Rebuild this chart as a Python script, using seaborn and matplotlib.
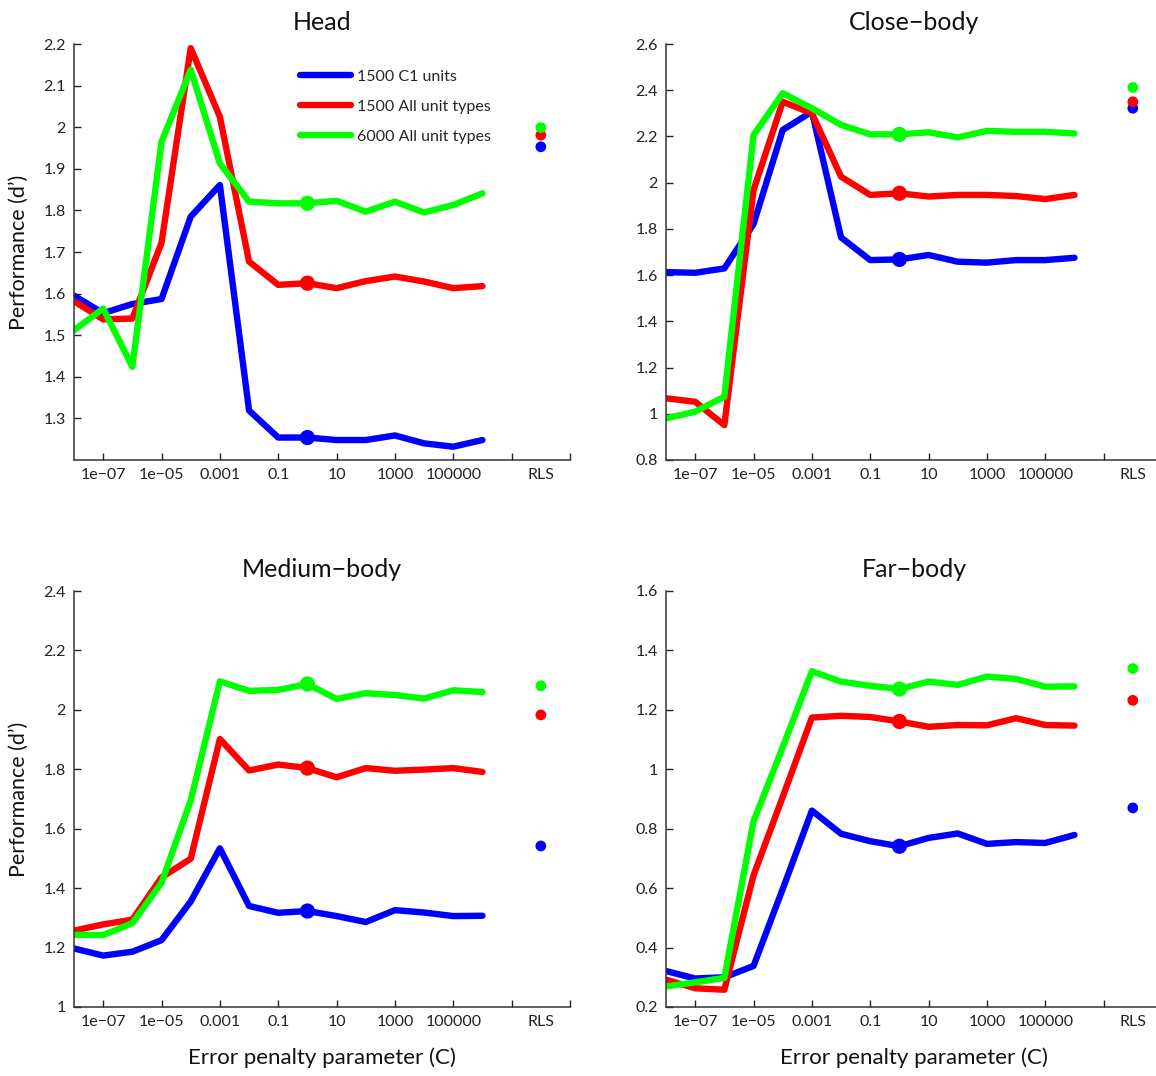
import numpy as np
import pandas as pd
import matplotlib
matplotlib.use("Agg")
import matplotlib.pyplot as plt
import seaborn as sns

# ---------------- data ----------------
log_c = [-8, -7, -6, -5, -4, -3, -2, -1, 0, 1, 2, 3, 4, 5, 6]   # log10(C)
rls_pos = 8
series_names = ["1500 C1 units", "1500 All unit types", "6000 All unit types"]
colors = ["#0000ff", "#ff0000", "#00ff00"]

head_c1 = [1.595, 1.553, 1.575, 1.587, 1.785, 1.861, 1.319, 1.254, 1.254, 1.248, 1.248, 1.259, 1.240, 1.232, 1.248]
head_all1500 = [1.582, 1.538, 1.540, 1.722, 2.190, 2.025, 1.677, 1.621, 1.625, 1.613, 1.630, 1.641, 1.629, 1.613, 1.618]
head_all6000 = [1.512, 1.564, 1.424, 1.965, 2.138, 1.913, 1.821, 1.817, 1.817, 1.823, 1.797, 1.821, 1.795, 1.813, 1.841]
head_rls = [1.953, 1.981, 1.999]

close_c1 = [1.613, 1.610, 1.629, 1.821, 2.228, 2.307, 1.763, 1.665, 1.668, 1.687, 1.658, 1.654, 1.665, 1.665, 1.675]
close_all1500 = [1.067, 1.052, 0.951, 1.968, 2.350, 2.300, 2.026, 1.947, 1.954, 1.940, 1.947, 1.947, 1.942, 1.929, 1.947]
close_all6000 = [0.980, 1.009, 1.074, 2.206, 2.387, 2.322, 2.250, 2.209, 2.209, 2.218, 2.196, 2.224, 2.220, 2.220, 2.213]
close_rls = [2.322, 2.350, 2.412]

medium_c1 = [1.197, 1.173, 1.186, 1.225, 1.355, 1.534, 1.340, 1.317, 1.323, 1.306, 1.286, 1.326, 1.318, 1.306, 1.307]
medium_all1500 = [1.257, 1.278, 1.294, 1.436, 1.499, 1.902, 1.796, 1.816, 1.804, 1.773, 1.804, 1.795, 1.799, 1.804, 1.791]
medium_all6000 = [1.243, 1.242, 1.282, 1.418, 1.695, 2.096, 2.064, 2.067, 2.087, 2.037, 2.056, 2.050, 2.038, 2.066, 2.060]
medium_rls = [1.542, 1.983, 2.081]

far_c1 = [0.321, 0.296, 0.300, 0.338, 0.597, 0.861, 0.783, 0.758, 0.741, 0.769, 0.784, 0.749, 0.755, 0.752, 0.779]
far_all1500 = [0.292, 0.263, 0.258, 0.643, 0.907, 1.174, 1.180, 1.176, 1.161, 1.143, 1.149, 1.148, 1.172, 1.149, 1.147]
far_all6000 = [0.269, 0.283, 0.298, 0.825, 1.074, 1.330, 1.295, 1.281, 1.270, 1.295, 1.284, 1.312, 1.304, 1.278, 1.279]
far_rls = [0.870, 1.232, 1.339]

xtick_pos = [-7, -5, -3, -1, 1, 3, 5, 7, 9]
xtick_labels = ["1e\u221207", "1e\u221205", "0.001", "0.1", "10", "1000", "100000", "", ""]

panels = [
    ("Head", [head_c1, head_all1500, head_all6000], head_rls, (1.2, 2.2), np.arange(1.3, 2.21, 0.1)),
    ("Close\u2212body", [close_c1, close_all1500, close_all6000], close_rls, (0.8, 2.6), np.arange(0.8, 2.61, 0.2)),
    ("Medium\u2212body", [medium_c1, medium_all1500, medium_all6000], medium_rls, (1.0, 2.4), np.arange(1.0, 2.41, 0.2)),
    ("Far\u2212body", [far_c1, far_all1500, far_all6000], far_rls, (0.2, 1.6), np.arange(0.2, 1.61, 0.2)),
]

# ---------------- style ----------------
sns.set_style("ticks")
plt.rcParams["font.family"] = ["Lato", "DejaVu Sans"]

W, H = 1156, 1076
fig = plt.figure(figsize=(W / 100, H / 100), dpi=100)

# axes rectangles from pixel coords (left, top, right, bottom)
rects_px = [(74, 44, 570, 460), (666, 44, 1162, 460), (74, 591, 570, 1007), (666, 591, 1162, 1007)]

for i, (title, series, rls, ylim, yticks) in enumerate(panels):
    l, t, r, b = rects_px[i]
    ax = fig.add_axes([l / W, 1 - b / H, (r - l) / W, (b - t) / H])

    df = pd.DataFrame({
        "logC": log_c * 3,
        "dprime": series[0] + series[1] + series[2],
        "series": sum([[n] * len(log_c) for n in series_names], []),
    })
    sns.lineplot(data=df, x="logC", y="dprime", hue="series", hue_order=series_names,
                 palette=colors, linewidth=4.6, ax=ax, legend=False, zorder=2)

    dot = df[df["logC"] == 0]
    sns.scatterplot(data=dot, x="logC", y="dprime", hue="series", hue_order=series_names,
                    palette=colors, s=120, linewidth=0, ax=ax, legend=False, zorder=3)

    rdf = pd.DataFrame({"logC": [rls_pos] * 3, "dprime": rls, "series": series_names})
    sns.scatterplot(data=rdf, x="logC", y="dprime", hue="series", hue_order=series_names,
                    palette=colors, s=60, linewidth=0, ax=ax, legend=False, zorder=3)

    ax.set_xlim(-8, 9)
    ax.set_ylim(*ylim)
    ax.set_xticks(xtick_pos)
    ax.set_xticklabels(xtick_labels)
    ax.set_xticks([rls_pos], minor=True)
    ax.set_xticklabels(["RLS"], minor=True)
    ax.set_yticks(yticks)
    ax.set_yticklabels(["%g" % round(v, 1) for v in yticks])
    ax.tick_params(axis="both", which="major", direction="in", length=5, width=1,
                   labelsize=11.5, colors="#222222", pad=6)
    ax.tick_params(axis="x", which="minor", length=0, labelsize=11.5, colors="#222222", pad=6)
    for s in ["top", "right"]:
        ax.spines[s].set_visible(False)
    for s in ["left", "bottom"]:
        ax.spines[s].set_linewidth(1.1)
        ax.spines[s].set_color("#333333")

    ax.set_title(title, fontsize=18, pad=10, color="#111111")
    if i in (0, 2):
        ax.set_ylabel("Performance (d\u2019)", fontsize=15.5, labelpad=10, color="#111111")
    else:
        ax.set_ylabel("")
    if i in (2, 3):
        ax.set_xlabel("Error penalty parameter (C)", fontsize=16, labelpad=13, color="#111111")
    else:
        ax.set_xlabel("")

    if i == 0:
        handles = [plt.Line2D([], [], color=c, linewidth=4.6) for c in colors]
        ax.legend(handles, series_names, loc="upper left", bbox_to_anchor=(0.455, 0.938),
                  frameon=False, fontsize=11.5, handlelength=3.2, handletextpad=0.4,
                  labelspacing=0.98, borderpad=0, borderaxespad=0)

fig.savefig("out.png", dpi=100)
